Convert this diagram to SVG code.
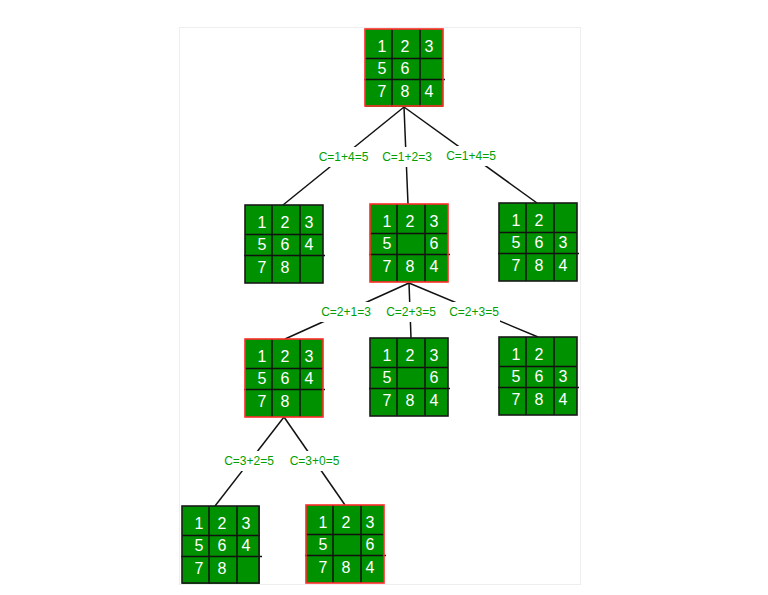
<svg xmlns="http://www.w3.org/2000/svg" xmlns:xlink="http://www.w3.org/1999/xlink" width="768" height="595" viewBox="0 0 768 595">
<style>
.panel{fill:#ffffff;stroke:#eeeeee;stroke-width:1}
.edge{stroke:#111111;stroke-width:1.5;fill:none}
.lblbg{fill:#ffffff}
.lbl{font-family:"Liberation Sans",Arial,sans-serif;font-size:12px;fill:#00a000;text-anchor:middle}
.cellbg{fill:#009100}
.grid{stroke:#111111;stroke-width:1.5;fill:none}
.bk{fill:none;stroke:#1a1a1a;stroke-width:1.6}
.rd{fill:none;stroke:#ff2b2b;stroke-width:1.6}
.d{font-family:"Liberation Sans",Arial,sans-serif;font-size:16px;fill:#ffffff;text-anchor:middle}
</style>
<defs>
<g id="board">
<rect class="cellbg" x="0" y="0" width="78" height="78"/>
<line class="grid" x1="27" y1="0" x2="27" y2="78"/>
<line class="grid" x1="55" y1="0" x2="55" y2="78"/>
<line class="grid" x1="0" y1="29.5" x2="78" y2="29.5"/>
<line class="grid" x1="-1" y1="50.5" x2="80" y2="50.5"/>
</g>
</defs>
<rect class="panel" x="179.5" y="27.5" width="401" height="557"/>
<g id="connectors">
<line class="edge" x1="404" y1="107" x2="283" y2="205"/>
<line class="edge" x1="404" y1="107" x2="408" y2="204"/>
<line class="edge" x1="404" y1="107" x2="537" y2="203"/>
<line class="edge" x1="409" y1="283" x2="285" y2="339"/>
<line class="edge" x1="409" y1="283" x2="411" y2="338"/>
<line class="edge" x1="409" y1="283" x2="538" y2="337"/>
<line class="edge" x1="284" y1="417" x2="215" y2="506"/>
<line class="edge" x1="284" y1="417" x2="345" y2="505"/>
<rect class="lblbg" x="317" y="147" width="53" height="20"/>
<text class="lbl" x="343.5" y="161">C=1+4=5</text>
<rect class="lblbg" x="381" y="147" width="52" height="20"/>
<text class="lbl" x="407" y="161">C=1+2=3</text>
<rect class="lblbg" x="445" y="146" width="52" height="20"/>
<text class="lbl" x="471" y="160">C=1+4=5</text>
<rect class="lblbg" x="320" y="302" width="52" height="20"/>
<text class="lbl" x="346" y="316">C=2+1=3</text>
<rect class="lblbg" x="385" y="302" width="52" height="20"/>
<text class="lbl" x="411" y="316">C=2+3=5</text>
<rect class="lblbg" x="448" y="302" width="52" height="20"/>
<text class="lbl" x="474" y="316">C=2+3=5</text>
<rect class="lblbg" x="223" y="451" width="52" height="20"/>
<text class="lbl" x="249" y="465">C=3+2=5</text>
<rect class="lblbg" x="288" y="451" width="53" height="20"/>
<text class="lbl" x="314.5" y="465">C=3+0=5</text>
</g>
<g id="n_root" transform="translate(365,29)">
<use xlink:href="#board"/>
<rect class="rd" x="0" y="0" width="78" height="77"/>
<text class="d" x="17" y="22.5">1</text><text class="d" x="40" y="22.5">2</text><text class="d" x="64" y="22.5">3</text>
<text class="d" x="17" y="44.5">5</text><text class="d" x="40" y="44.5">6</text>
<text class="d" x="17" y="67.5">7</text><text class="d" x="40" y="67.5">8</text><text class="d" x="64" y="67.5">4</text>
</g>
<g id="n_l2a" transform="translate(245,205)">
<use xlink:href="#board"/>
<rect class="bk" x="0" y="0" width="78" height="78"/>
<text class="d" x="17" y="22.5">1</text><text class="d" x="40" y="22.5">2</text><text class="d" x="64" y="22.5">3</text>
<text class="d" x="17" y="44.5">5</text><text class="d" x="40" y="44.5">6</text><text class="d" x="64" y="44.5">4</text>
<text class="d" x="17" y="67.5">7</text><text class="d" x="40" y="67.5">8</text>
</g>
<g id="n_l2b" transform="translate(370,204)">
<use xlink:href="#board"/>
<rect class="rd" x="0" y="0" width="78" height="78"/>
<text class="d" x="17" y="22.5">1</text><text class="d" x="40" y="22.5">2</text><text class="d" x="64" y="22.5">3</text>
<text class="d" x="17" y="44.5">5</text><text class="d" x="64" y="44.5">6</text>
<text class="d" x="17" y="67.5">7</text><text class="d" x="40" y="67.5">8</text><text class="d" x="64" y="67.5">4</text>
</g>
<g id="n_l2c" transform="translate(499,203)">
<use xlink:href="#board"/>
<rect class="bk" x="0" y="0" width="78" height="78"/>
<text class="d" x="17" y="22.5">1</text><text class="d" x="40" y="22.5">2</text>
<text class="d" x="17" y="44.5">5</text><text class="d" x="40" y="44.5">6</text><text class="d" x="64" y="44.5">3</text>
<text class="d" x="17" y="67.5">7</text><text class="d" x="40" y="67.5">8</text><text class="d" x="64" y="67.5">4</text>
</g>
<g id="n_l3a" transform="translate(245,339)">
<use xlink:href="#board"/>
<rect class="rd" x="0" y="0" width="78" height="78"/>
<text class="d" x="17" y="22.5">1</text><text class="d" x="40" y="22.5">2</text><text class="d" x="64" y="22.5">3</text>
<text class="d" x="17" y="44.5">5</text><text class="d" x="40" y="44.5">6</text><text class="d" x="64" y="44.5">4</text>
<text class="d" x="17" y="67.5">7</text><text class="d" x="40" y="67.5">8</text>
</g>
<g id="n_l3b" transform="translate(370,338)">
<use xlink:href="#board"/>
<rect class="bk" x="0" y="0" width="78" height="78"/>
<text class="d" x="17" y="22.5">1</text><text class="d" x="40" y="22.5">2</text><text class="d" x="64" y="22.5">3</text>
<text class="d" x="17" y="44.5">5</text><text class="d" x="64" y="44.5">6</text>
<text class="d" x="17" y="67.5">7</text><text class="d" x="40" y="67.5">8</text><text class="d" x="64" y="67.5">4</text>
</g>
<g id="n_l3c" transform="translate(499,337)">
<use xlink:href="#board"/>
<rect class="bk" x="0" y="0" width="78" height="78"/>
<text class="d" x="17" y="22.5">1</text><text class="d" x="40" y="22.5">2</text>
<text class="d" x="17" y="44.5">5</text><text class="d" x="40" y="44.5">6</text><text class="d" x="64" y="44.5">3</text>
<text class="d" x="17" y="67.5">7</text><text class="d" x="40" y="67.5">8</text><text class="d" x="64" y="67.5">4</text>
</g>
<g id="n_l4a" transform="translate(182,506)">
<use xlink:href="#board"/>
<rect class="bk" x="0" y="0" width="77" height="77"/>
<text class="d" x="17" y="22.5">1</text><text class="d" x="40" y="22.5">2</text><text class="d" x="64" y="22.5">3</text>
<text class="d" x="17" y="44.5">5</text><text class="d" x="40" y="44.5">6</text><text class="d" x="64" y="44.5">4</text>
<text class="d" x="17" y="67.5">7</text><text class="d" x="40" y="67.5">8</text>
</g>
<g id="n_l4b" transform="translate(306,505)">
<use xlink:href="#board"/>
<rect class="rd" x="0" y="0" width="78" height="78"/>
<text class="d" x="17" y="22.5">1</text><text class="d" x="40" y="22.5">2</text><text class="d" x="64" y="22.5">3</text>
<text class="d" x="17" y="44.5">5</text><text class="d" x="64" y="44.5">6</text>
<text class="d" x="17" y="67.5">7</text><text class="d" x="40" y="67.5">8</text><text class="d" x="64" y="67.5">4</text>
</g>
</svg>
